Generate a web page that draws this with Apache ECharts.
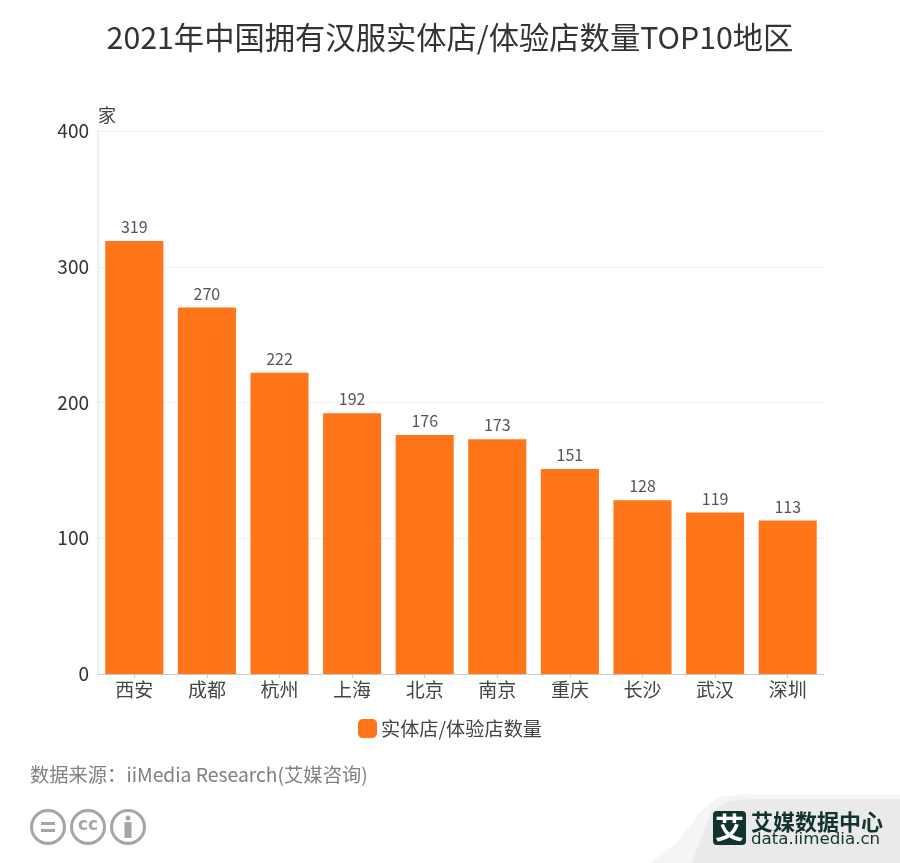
<!DOCTYPE html>
<html><head><meta charset="utf-8">
<style>html,body{margin:0;padding:0;background:#fff}#c{width:900px;height:863px}</style>
<script src="https://cdn.jsdelivr.net/npm/echarts@6/dist/echarts.min.js"></script>
</head><body><div id="c"></div>
<script>
const titleText = '2021年中国拥有汉服实体店/体验店数量TOP10地区';
const categories = ['西安','成都','杭州','上海','北京','南京','重庆','长沙','武汉','深圳'];
const storeCounts = [319,270,222,192,176,173,151,128,119,113];
const seriesName = '实体店/体验店数量';
const unitLabel = '家';
const sourceText = '数据来源：iiMedia Research(艾媒咨询)';
const FONT = '"Noto Sans CJK SC","Noto Sans",sans-serif';
const chart = echarts.init(document.getElementById('c'), null, {renderer:'canvas'});
const grey = '#a6a6a6';
chart.setOption({
  animation:false,
  backgroundColor:'#fff',
  textStyle:{fontFamily:FONT},
  title:{text:titleText,left:'center',top:17,textStyle:{fontSize:30.3,fontWeight:'normal',color:'#333',fontFamily:FONT}},
  grid:{left:98,right:76,top:131,bottom:189,containLabel:false},
  legend:{data:[seriesName],left:'center',top:714,itemWidth:19,itemHeight:19,icon:'roundRect',itemGap:5,
    textStyle:{fontSize:19.2,color:'#444',fontFamily:FONT,padding:[0,0,0,-1]}},
  xAxis:{type:'category',data:categories,
    axisLine:{lineStyle:{color:'#c9c9c9',width:1}},
    axisTick:{show:true,alignWithLabel:true,length:4,lineStyle:{color:'#c9c9c9'}},
    axisLabel:{fontSize:19,color:'#444',margin:6,fontFamily:FONT}},
  yAxis:{type:'value',min:0,max:400,interval:100,name:unitLabel,
    nameLocation:'end',nameGap:7,nameTextStyle:{fontSize:18,color:'#444',align:'center',padding:[0,0,0,18],fontFamily:FONT},
    axisLine:{show:true,lineStyle:{color:'#e8e8e8',width:1.5}},axisTick:{show:false},
    splitLine:{lineStyle:{color:'#f0f0f0',width:1}},
    axisLabel:{fontSize:19,color:'#333',margin:9,padding:[0,0,2,0],fontFamily:FONT}},
  series:[{name:seriesName,type:'bar',data:storeCounts,barWidth:'80%',
    itemStyle:{color:'#ff751a'},
    label:{show:true,position:'top',distance:6,fontSize:16,color:'#555',fontFamily:FONT}}],
  graphic:[
    {type:'text',style:{text:sourceText,x:30,y:765,fontSize:19.3,fill:'#808080',fontFamily:FONT}},
    ...[48,88,128].map(cx=>({type:'circle',shape:{cx,cy:827,r:16.5},style:{fill:'#fff',stroke:grey,lineWidth:3}})),
    {type:'rect',shape:{x:41,y:822,width:14,height:3},style:{fill:grey}},
    {type:'rect',shape:{x:41,y:829,width:14,height:3},style:{fill:grey}},
    {type:'text',style:{text:'cc',x:88,y:826,fontSize:17,fontWeight:'bold',fill:grey,align:'center',verticalAlign:'middle',fontFamily:'"DejaVu Sans"'}},
    {type:'circle',shape:{cx:128,cy:818,r:2.5},style:{fill:grey}},
    {type:'rect',shape:{x:124.5,y:822,width:7,height:16},style:{fill:grey}},
    {type:'polygon',shape:{points:[[650,863],[678,842],[700,812],[718,797],[745,794],[900,794],[900,863]]},style:{fill:'#f4f5f4'}},
    {type:'polygon',shape:{points:[[692,863],[702,835],[712,812],[728,801],[750,799],[900,799],[900,863]]},style:{fill:'#e9eae9'}},
    {type:'rect',shape:{x:713,y:811,width:33,height:34,r:4},style:{fill:'#12332e'}},
    {type:'text',style:{text:'艾',x:729.5,y:828,fontSize:29,fontWeight:'bold',fill:'#fff',align:'center',verticalAlign:'middle',fontFamily:FONT}},
    {type:'text',style:{text:'艾媒数据中心',x:751,y:822,fontSize:22,fontWeight:'bold',fill:'#12332e',verticalAlign:'middle',fontFamily:FONT}},
    {type:'text',style:{text:'data.iimedia.cn',x:751,y:840,fontSize:16.7,fill:'#12332e',verticalAlign:'middle',fontFamily:'"DejaVu Sans"'}}
  ]
});
</script></body></html>
